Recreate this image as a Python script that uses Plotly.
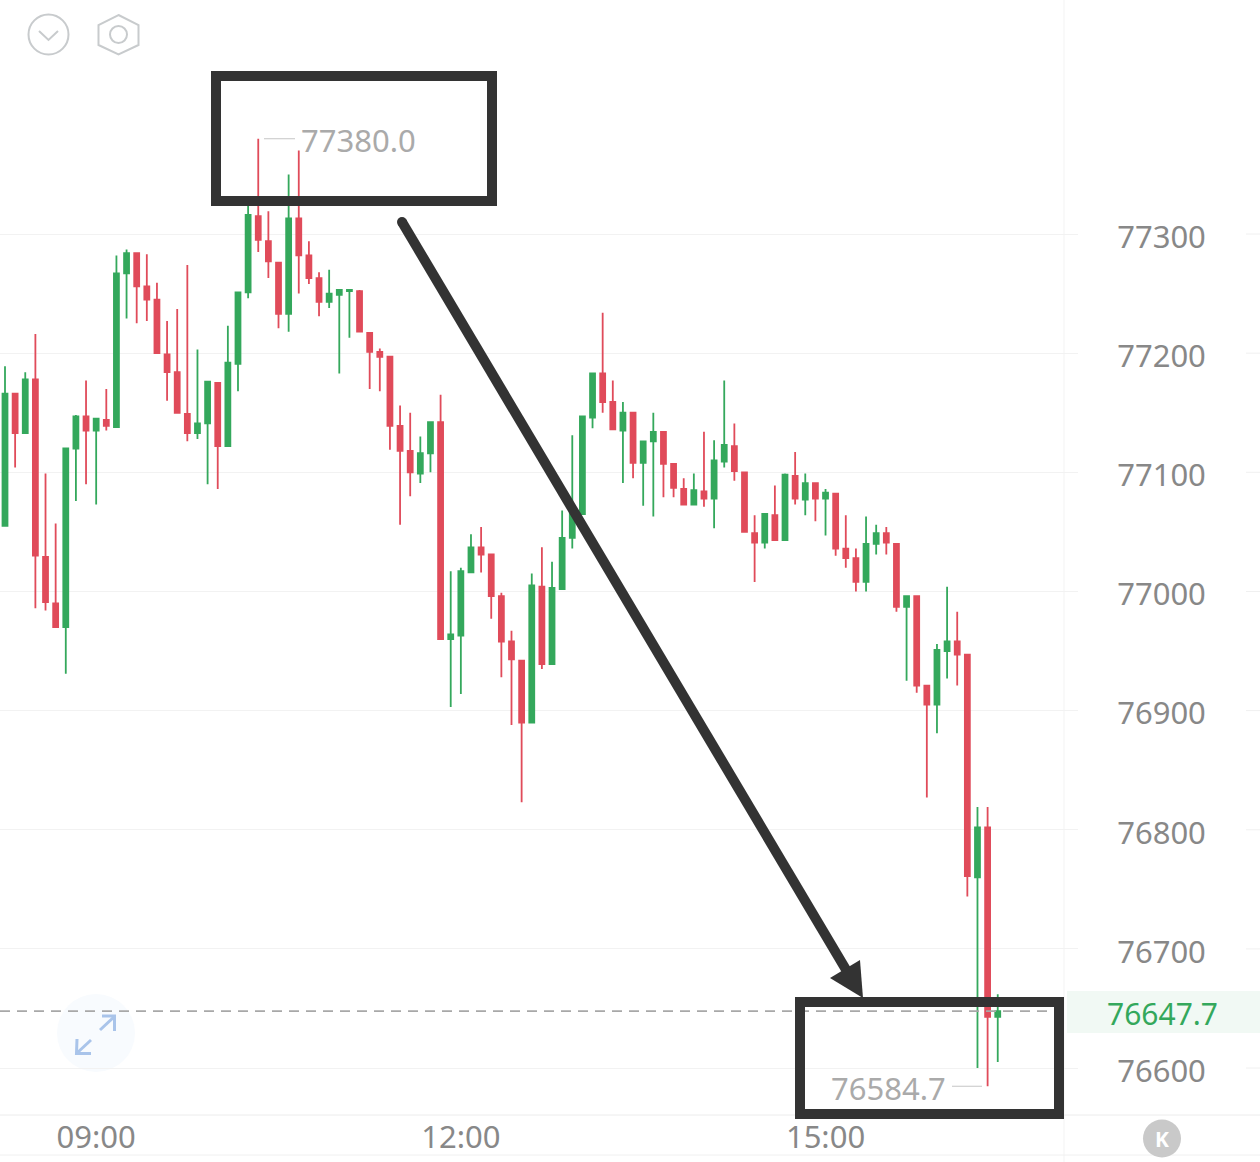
import pandas as pd
import plotly.graph_objects as go

opens = [77055,77166,77133,77178,77029,76990,76970,77120,77147,77135,77144,77138,77267,77284,77256,77245,77199,77184,77149,77133,
         77141,77175,77122,77191,77251,77315,77294,77276,77233,77313,77282,77263,77243,77249,77252,77252,77217,77201,77197,77139,
         77118,77099,77116,77142,76960,76963,77016,77037,77031,76996,76958,76942,76890,77004,76939,77002,77045,77065,77146,77183,
         77159,77135,77150,77108,77126,77134,77107,77086,77073,77084,77078,77109,77122,77100,77049,77041,77064,77043,77097,77077,
         77091,77078,77082,77036,77028,77008,77040,77049,77040,76987,76996,76921,76905,76950,76958,76947,76760,76802,76643]
highs = [77189,77166,77184,77216,77099,77057,77120,77148,77177,77145,77170,77282,77287,77284,77283,77259,77227,77237,77274,77203,
         77176,77175,77223,77251,77326,77380,77319,77276,77350,77370,77294,77268,77270,77253,77253,77253,77217,77204,77197,77156,
         77150,77130,77142,77165,77017,77020,77048,77054,77031,76999,76967,76942,77015,77037,77025,77068,77131,77147,77183,77234,
         77177,77159,77150,77126,77150,77134,77107,77095,77099,77134,77127,77177,77141,77100,77064,77065,77089,77099,77117,77099,
         77091,77086,77082,77064,77036,77063,77056,77054,77040,76996,76996,76921,76956,77004,76983,76947,76819,76819,76662]
lows = [77055,77104,77133,76986,76984,76970,76931,77076,77090,77073,77135,77138,77229,77225,77227,77200,77160,77150,77126,77128,
        77090,77086,77122,77168,77246,77285,77263,77221,77218,77250,77258,77231,77238,77183,77213,77218,77170,77168,77119,77056,
        77080,77091,77100,76960,76903,76914,77016,77016,76977,76928,76888,76823,76890,76935,76939,77002,77036,77065,77137,77150,
        77136,77091,77095,77072,77063,77079,77079,77073,77073,77071,77053,77104,77093,77050,77008,77036,77043,77043,77073,77064,
        77059,77047,77030,77020,77000,77000,77031,77031,76983,76925,76915,76827,76881,76927,76921,76744,76600,76584.7,76605]
closes = [77166,77133,77178,77030,76991,76970,77120,77147,77135,77145,77139,77267,77284,77256,77245,77200,77184,77150,77133,77141,
          77176,77122,77192,77251,77316,77295,77277,77233,77313,77282,77263,77243,77250,77253,77253,77218,77201,77197,77139,77118,
          77100,77116,77142,76960,76964,77017,77037,77031,76996,76958,76943,76890,77005,76939,77003,77045,77068,77147,77183,77159,
          77136,77150,77108,77126,77134,77107,77087,77073,77085,77078,77110,77123,77101,77050,77041,77065,77043,77098,77078,77091,
          77078,77083,77036,77028,77008,77040,77049,77041,76987,76996,76921,76905,76951,76958,76947,76761,76802,76643,76647.7]

y_ticks = [76600, 76700, 76800, 76900, 77000, 77100, 77200, 77300]
x_tick_text = ["09:00", "12:00", "15:00"]
x_tick_index = [9, 45, 81]
current_price = 76647.7
max_price = 77380.0
min_price = 76584.7

times = pd.date_range("2024-11-07 08:15", periods=len(opens), freq="5min")

W, H = 1260, 1162
PLOT_R, PLOT_B = 1078, 1115
FONT = "Noto Sans"
UP, DOWN = "#34a85c", "#e04b5a"
INK = "#333333"


def X(px):
    return px / PLOT_R


def Y(py):
    return 1 - py / PLOT_B


def px_time(px):
    return times[0] + (px - 5.0) / 10.13 * pd.Timedelta(minutes=5)


def line(x0, y0, x1, y1, color, width, layer="above", dash=None):
    return dict(type="line", xref="paper", yref="paper", x0=X(x0), y0=Y(y0), x1=X(x1), y1=Y(y1),
                line=dict(color=color, width=width, dash=dash), layer=layer)


def rect(x0, y0, x1, y1, fill=None, color=None, width=0, layer="above"):
    return dict(type="rect", xref="paper", yref="paper", x0=X(x0), y0=Y(y0), x1=X(x1), y1=Y(y1),
                fillcolor=fill or "rgba(0,0,0,0)", line=dict(color=color or "rgba(0,0,0,0)", width=width), layer=layer)


def circle(cx, cy, r, fill=None, color=None, width=0, layer="above"):
    return dict(type="circle", xref="paper", yref="paper", x0=X(cx - r), y0=Y(cy - r), x1=X(cx + r), y1=Y(cy + r),
                fillcolor=fill or "rgba(0,0,0,0)", line=dict(color=color or "rgba(0,0,0,0)", width=width), layer=layer)


def poly(points, fill=None, color=None, width=0, close=True, layer="above"):
    d = "M " + " L ".join(f"{X(a):.5f} {Y(b):.5f}" for a, b in points) + (" Z" if close else "")
    return dict(type="path", xref="paper", yref="paper", path=d, fillcolor=fill or "rgba(0,0,0,0)",
                line=dict(color=color or "rgba(0,0,0,0)", width=width), layer=layer)


fig = go.Figure(go.Candlestick(
    x=times, open=opens, high=highs, low=lows, close=closes,
    increasing=dict(line=dict(color=UP, width=1.8), fillcolor=UP),
    decreasing=dict(line=dict(color=DOWN, width=1.8), fillcolor=DOWN),
    whiskerwidth=0, hoverinfo="skip", showlegend=False,
))

shapes = [
    line(1064, 0, 1064, H, "#f3f3f3", 1, "below"),
    line(0, 1115, W, 1115, "#ececec", 1, "below"),
    line(0, 1155, W, 1155, "#f0f0f0", 1, "below"),
    rect(1067, 991, W, 1033, fill="#f1f9f4", layer="below"),
    dict(type="line", xref="paper", yref="y", x0=0, x1=X(1052), y0=current_price, y1=current_price,
         line=dict(color="#a8a8a8", width=1.8, dash="10px,7px"), layer="above"),
    dict(type="line", xref="paper", yref="y", x0=X(264), x1=X(295), y0=max_price, y1=max_price,
         line=dict(color="#cfcfcf", width=1.2), layer="above"),
    dict(type="line", xref="paper", yref="y", x0=X(952), x1=X(982), y0=min_price, y1=min_price,
         line=dict(color="#cfcfcf", width=1.2), layer="above"),
    # annotation boxes and arrow
    rect(216, 76, 492, 201, color=INK, width=10),
    rect(800, 1002, 1059, 1114, color=INK, width=10),
    line(402, 222, 848, 973, INK, 10),
    circle(402, 222, 5, fill=INK),
    poly([(830, 978), (860, 960), (863, 998)], fill=INK),
    # top-left icons
    circle(48.5, 34.5, 20, color="#c8cbcd", width=2),
    poly([(39, 31), (48.5, 40), (58, 31)], color="#c8cbcd", width=2, close=False),
    poly([(118.5, 15), (138.5, 25), (138.5, 45), (118.5, 54.5), (98.5, 45), (98.5, 25)], color="#c8cbcd", width=2),
    circle(118.5, 34.5, 8.5, color="#c8cbcd", width=2),
    # expand icon
    circle(96, 1033, 39, fill="#f8fbfe", layer="below"),
    line(100, 1030, 114, 1017, "#a9c4ea", 3),
    poly([(102, 1016), (114.5, 1016), (114.5, 1031)], color="#a9c4ea", width=3, close=False),
    line(77, 1053, 91, 1040, "#a9c4ea", 3),
    poly([(77, 1039), (76.5, 1053.5), (91, 1053.5)], color="#a9c4ea", width=3, close=False),
    # return-to-latest button
    circle(1162, 1138.5, 19, fill="#c9c9c9"),
]
for t in y_ticks:
    shapes.append(dict(type="line", xref="paper", yref="y", x0=X(1246), x1=X(W), y0=t, y1=t,
                       line=dict(color="#f0f0f0", width=1), layer="below"))

text_font = dict(family=FONT, size=31, color="#aaaaaa")
annotations = [
    dict(x=times[25], y=max_price, xref="x", yref="y", xanchor="left", yanchor="middle", xshift=41, yshift=-1,
         text="77380.0", showarrow=False, font=text_font),
    dict(x=times[97], y=min_price, xref="x", yref="y", xanchor="right", yanchor="middle", xshift=-40, yshift=-2,
         text="76584.7", showarrow=False, font=text_font),
    dict(x=X(1162), y=Y(1013), xref="paper", yref="paper", xanchor="center", yanchor="middle",
         text="76647.7", showarrow=False, font=dict(family=FONT, size=30, color=UP)),
    dict(x=X(1162), y=Y(1138.5), xref="paper", yref="paper", xanchor="center", yanchor="middle",
         text="<b>K</b>", showarrow=False, font=dict(family=FONT, size=21, color="#ffffff")),
]

fig.update_layout(
    width=W, height=H, autosize=False,
    margin=dict(l=0, r=W - PLOT_R, t=0, b=H - PLOT_B, pad=0),
    paper_bgcolor="#ffffff", plot_bgcolor="#ffffff",
    shapes=shapes, annotations=annotations, showlegend=False,
    xaxis=dict(
        type="date", rangeslider=dict(visible=False), automargin=False,
        range=[px_time(0), px_time(PLOT_R)],
        tickmode="array", tickvals=[times[i] for i in x_tick_index], ticktext=x_tick_text,
        showgrid=False, zeroline=False, showline=False,
        ticks="", ticklabelstandoff=1,
        tickfont=dict(family=FONT, size=31, color="#888888"),
    ),
    yaxis=dict(
        side="right", automargin=False,
        range=[76560.6, 77496.4],
        tickmode="array", tickvals=y_ticks, ticktext=[str(t) for t in y_ticks],
        showgrid=True, gridcolor="#f2f2f2", gridwidth=1, zeroline=False, showline=False,
        ticks="outside", ticklen=32, tickcolor="rgba(0,0,0,0)", ticklabelshift=3,
        tickfont=dict(family=FONT, size=31, color="#888888"),
    ),
)

fig.write_html("out.html", config=dict(displayModeBar=False),
               post_script="document.body.style.margin='0';document.body.style.overflow='hidden';")
